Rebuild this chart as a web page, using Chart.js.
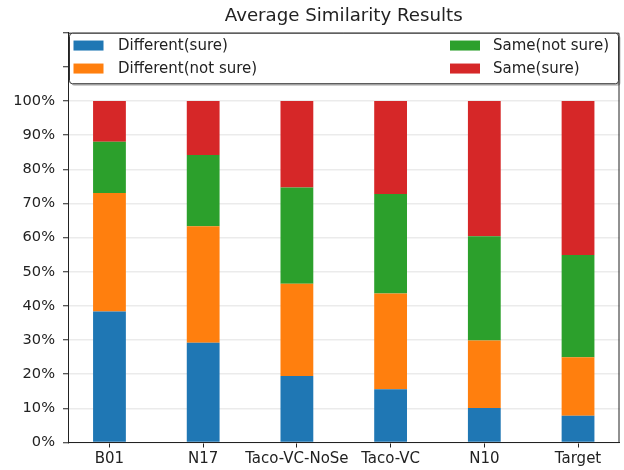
<!DOCTYPE html>
<html>
<head>
<meta charset="utf-8">
<title>Average Similarity Results</title>
<script src="https://cdn.jsdelivr.net/npm/chart.js@4.4.1/dist/chart.umd.min.js"></script>
<style>
  body { margin: 0; background: #fff; }
  canvas { display: block; }
</style>
</head>
<body>
<canvas id="chart" width="624" height="470"></canvas>
<script>
const categories = ['B01', 'N17', 'Taco-VC-NoSe', 'Taco-VC', 'N10', 'Target'];

// percent of answers per system, stacked bottom to top
const differentSure = [38.4, 29.2, 19.5, 15.6, 10.1, 7.8];
const differentNotSure = [34.7, 34.1, 27.0, 28.0, 19.8, 17.2];
const sameNotSure = [15.0, 20.9, 28.2, 29.2, 30.5, 29.9];
const sameSure = [11.9, 15.8, 25.3, 27.2, 39.6, 45.1];

const seriesLabels = ['Different(sure)', 'Different(not sure)', 'Same(not sure)', 'Same(sure)'];
const seriesColors = ['#1f77b4', '#ff7f0e', '#2ca02c', '#d62728'];

const FONT = 'DejaVu Sans';
const INK = '#222';

const toPoints = arr => arr.map((v, i) => ({ x: i, y: v }));

// top/right spines drawn around the plot area
const frame = {
  id: 'frame',
  afterDatasetsDraw(chart) {
    const { ctx, chartArea: a } = chart;
    ctx.save();
    ctx.strokeStyle = INK;
    ctx.lineWidth = 1;
    ctx.beginPath();
    ctx.moveTo(a.left, a.top + 0.5);
    ctx.lineTo(a.right - 0.5, a.top + 0.5);
    ctx.lineTo(a.right - 0.5, a.bottom);
    ctx.stroke();
    ctx.restore();
  }
};

// legend in two columns inside the top of the axes
const legendBox = {
  id: 'legendBox',
  afterDraw(chart) {
    const { ctx, chartArea: a } = chart;
    const x0 = a.left + 1.5, y0 = a.top + 0.5;
    const w = a.right - 1 - x0, h = 50.5;
    ctx.save();
    // soft shadow
    ctx.fillStyle = 'rgba(0,0,0,0.25)';
    ctx.beginPath();
    ctx.roundRect(x0 + 2, y0 + 2, w, h, 3);
    ctx.fill();
    ctx.fillStyle = '#fff';
    ctx.strokeStyle = '#333';
    ctx.lineWidth = 1;
    ctx.beginPath();
    ctx.roundRect(x0, y0, w, h, 3);
    ctx.fill();
    ctx.stroke();

    const colSwatch = [a.left + 5.5, a.left + 382];
    const colText = [a.left + 50, a.left + 425];
    const rowMid = [a.top + 12.8, a.top + 35.8];
    ctx.font = '15px "' + FONT + '"';
    ctx.textBaseline = 'middle';
    ctx.textAlign = 'left';
    chart.data.datasets.forEach((ds, i) => {
      const col = Math.floor(i / 2), row = i % 2;
      ctx.fillStyle = ds.backgroundColor;
      ctx.fillRect(colSwatch[col], rowMid[row] - 5, 30, 10);
      ctx.fillStyle = INK;
      ctx.fillText(ds.label, colText[col], rowMid[row] + 1);
    });
    ctx.restore();
  }
};

const datasets = [differentSure, differentNotSure, sameNotSure, sameSure].map((arr, i) => ({
  label: seriesLabels[i],
  data: toPoints(arr),
  backgroundColor: seriesColors[i],
  borderWidth: 0,
  categoryPercentage: 1,
  barPercentage: 0.35
}));

new Chart(document.getElementById('chart'), {
  type: 'bar',
  data: { datasets },
  options: {
    responsive: false,
    animation: false,
    devicePixelRatio: 1,
    layout: { padding: { left: 0, right: 4.5, top: 0, bottom: 0 } },
    plugins: {
      legend: { display: false },
      tooltip: { enabled: false },
      title: {
        display: true,
        fullSize: false,
        text: 'Average Similarity Results',
        color: INK,
        font: { family: FONT, size: 18.2, weight: 'normal' },
        padding: { top: 5, bottom: 5.9 }
      }
    },
    scales: {
      x: {
        type: 'linear',
        stacked: true,
        offset: false,
        min: -0.4425,
        max: 5.4425,
        afterBuildTicks: scale => {
          scale.ticks = categories.map((c, i) => ({ value: i }));
        },
        afterFit: scale => { scale.height = 27.5; },
        ticks: {
          autoSkip: false,
          maxRotation: 0,
          padding: 3,
          color: INK,
          font: { family: FONT, size: 15 },
          callback: v => categories[v]
        },
        grid: { offset: false, drawOnChartArea: false, drawTicks: true, tickLength: 5, tickColor: INK },
        border: { display: true, color: INK, width: 1 }
      },
      y: {
        stacked: true,
        min: 0,
        max: 120,
        afterFit: scale => { scale.width = 68; },
        ticks: {
          stepSize: 10,
          padding: 8,
          color: INK,
          font: { family: FONT, size: 14.6 },
          callback: v => (v <= 100 ? v + '%' : '')
        },
        grid: { color: '#ebebeb', lineWidth: 1.5, tickLength: 5, tickColor: INK, tickWidth: 1 },
        border: { display: true, color: INK, width: 1 }
      }
    }
  },
  plugins: [frame, legendBox]
});
</script>
</body>
</html>
